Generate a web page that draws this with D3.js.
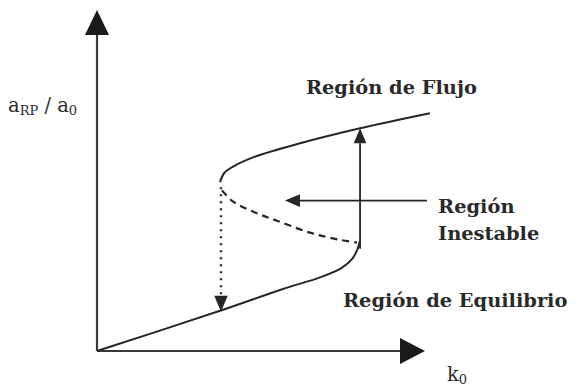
<!DOCTYPE html>
<html>
<head>
<meta charset="utf-8">
<script src="https://cdn.jsdelivr.net/npm/d3@7"></script>
<style>
  body { margin: 0; background: #fff; }
  text { font-family: "DejaVu Serif", serif; fill: #2a2a2a; }
</style>
</head>
<body>
<svg id="chart"></svg>
<script>
let width = 578;
let height = 387;
let ink = "#262626";
let axisInk = "#3a3a3a";

// branches of the S-curve, [k0, aRP/a0]
let lowerBranch = [[0, 0], [37.5, 11.8], [56.7, 18.2], [68, 21.6], [74.5, 24.3], [77.8, 27], [79.4, 29.8], [80.2, 32.4]];
let upperBranch = [[37.5, 49.5], [38.8, 52.2], [41.5, 54.1], [47.6, 56.8], [61.9, 60.9], [80.2, 65.3], [101.5, 69.7]];
let unstableBranch = [[38.1, 47.1], [41.5, 43.8], [48.2, 40.6], [54.9, 38.2], [64.9, 34.7], [74.1, 32.6], [79.3, 31.8]];

// jumps between branches: [from, to]
let jumpUp = [[80.2, 30], [80.2, 65.3]];
let jumpDown = [[37.8, 48], [37.8, 11.5]];
let pointer = [[100.6, 44.1], [57.3, 44.1]];

let axisEnd = [100, 100];

let labels = [
  { lines: ["Región de Flujo"], at: [63.7, 75.3] },
  { lines: ["Región", "Inestable"], at: [104, 40.6] },
  { lines: ["Región de Equilibrio"], at: [75, 12.9] }
];

let xax = d3.scaleLinear()
  .domain([0, 100])
  .range([97, 425]);

let yax = d3.scaleLinear()
  .domain([0, 100])
  .range([351, 10]);

let svg = d3.select("#chart")
  .attr("width", width)
  .attr("height", height);

let line = d3.line()
  .x(d => xax(d[0]))
  .y(d => yax(d[1]))
  .curve(d3.curveCatmullRom.alpha(0.5));

// axes with big arrowheads
let ox = xax(0), oy = yax(0);
let xTip = xax(axisEnd[0]), yTip = yax(axisEnd[1]);

svg.append("line")
  .attr("x1", ox).attr("y1", oy)
  .attr("x2", xTip - 20).attr("y2", oy)
  .attr("stroke", axisInk).attr("stroke-width", 2.2);

svg.append("line")
  .attr("x1", ox).attr("y1", oy)
  .attr("x2", ox).attr("y2", yTip + 20)
  .attr("stroke", axisInk).attr("stroke-width", 2.2);

svg.append("path")
  .attr("d", `M${xTip},${oy} L${xTip - 25},${oy - 13} L${xTip - 25},${oy + 13} Z`)
  .attr("fill", "#1a1a1a");

svg.append("path")
  .attr("d", `M${ox},${yTip} L${ox - 12},${yTip + 25} L${ox + 12},${yTip + 25} Z`)
  .attr("fill", "#1a1a1a");

// branches
svg.append("path")
  .attr("d", line(lowerBranch))
  .attr("fill", "none")
  .attr("stroke", ink)
  .attr("stroke-width", 2);

svg.append("path")
  .attr("d", line(upperBranch))
  .attr("fill", "none")
  .attr("stroke", ink)
  .attr("stroke-width", 2);

svg.append("path")
  .attr("d", line(unstableBranch))
  .attr("fill", "none")
  .attr("stroke", ink)
  .attr("stroke-width", 2.2)
  .attr("stroke-dasharray", "7,5");

// arrows
function drawArrow(pts, dash, size) {
  let [x1, y1] = [xax(pts[0][0]), yax(pts[0][1])];
  let [x2, y2] = [xax(pts[1][0]), yax(pts[1][1])];
  let ang = Math.atan2(y2 - y1, x2 - x1);
  let len = size, half = size * 0.42;
  let bx = x2 - len * Math.cos(ang), by = y2 - len * Math.sin(ang);
  svg.append("line")
    .attr("x1", x1).attr("y1", y1)
    .attr("x2", bx).attr("y2", by)
    .attr("stroke", ink)
    .attr("stroke-width", dash ? 2.4 : 1.8)
    .attr("stroke-dasharray", dash ? "2,5" : null);
  let px = -Math.sin(ang) * half, py = Math.cos(ang) * half;
  svg.append("path")
    .attr("d", `M${x2},${y2} L${bx + px},${by + py} L${bx - px},${by - py} Z`)
    .attr("fill", ink);
}

drawArrow(jumpUp, false, 15);
drawArrow(jumpDown, true, 16);
drawArrow(pointer, false, 15);

// region labels
labels.forEach(l => {
  let t = svg.append("text")
    .attr("x", xax(l.at[0]))
    .attr("y", yax(l.at[1]))
    .attr("font-size", 19.4)
    .attr("font-weight", "bold");
  l.lines.forEach((s, i) => {
    t.append("tspan")
      .attr("x", xax(l.at[0]))
      .attr("dy", i == 0 ? 0 : 27)
      .text(s);
  });
});

// axis titles
let yt = svg.append("text")
  .attr("x", 8)
  .attr("y", 112)
  .attr("font-size", 19.5);
yt.append("tspan").text("a");
yt.append("tspan").attr("font-size", 13).attr("dy", 3).text("RP");
yt.append("tspan").attr("dy", -3).text(" / a");
yt.append("tspan").attr("font-size", 13).attr("dy", 3).text("0");

let xt = svg.append("text")
  .attr("x", 447)
  .attr("y", 381)
  .attr("font-size", 19.5);
xt.append("tspan").text("k");
xt.append("tspan").attr("font-size", 13).attr("dy", 3).text("0");
</script>
</body>
</html>
